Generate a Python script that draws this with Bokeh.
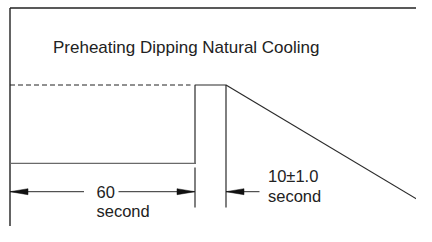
from bokeh.plotting import figure
from bokeh.models import Range1d
from bokeh.core.properties import value
from bokeh.embed import file_html
from bokeh.resources import INLINE

# ---- diagram data (reference pixel coordinates, y downward) ----
title_text = ["Preheating Dipping Natural Cooling"]
title_x = [52.5]
title_y = [47.3]

# frame lines
frame_xs = [[9.5, 440], [9.5, 9.5]]
frame_ys = [[7.5, 7.5], [7.5, 250]]

# preheat level (dashed)
preheat_x = [9.5, 190]
preheat_y = [84.5, 84.5]

# dipping plateau and cooling slope
profile_xs = [[194.5, 194.5, 225.5, 225.5], [225.5, 432], [9.5, 195.5], [194.5, 194.5]]
profile_ys = [[163, 84.5, 84.5, 207], [84.5, 208], [162.8, 162.8], [167, 207]]
profile_colors = ["#2a2a2a", "#2a2a2a", "#6a6a6a", "#2a2a2a"]

# dimension lines
dim_xs = [[9.5, 83.5], [118, 194], [225.5, 259]]
dim_ys = [[191.2, 191.2], [191.2, 191.2], [191.2, 191.2]]

# arrow tips: x, y, direction (+1 = points right, -1 = points left)
tip_x = [9.5, 194.5, 225.5]
tip_y = [191.2, 191.2, 191.2]
tip_dir = [-1, 1, -1]

# labels
label_text = ["60", "second", "10\u00b11.0", "second"]
label_x = [96, 96, 267.5, 267.5]
label_y = [191.6, 210.5, 175.0, 195.5]

HEAD_LEN = 18
HEAD_HALF = 3

p = figure(width=416, height=226, x_range=Range1d(0, 416), y_range=Range1d(226, 0),
           output_backend="svg", toolbar_location=None, min_border=0,
           x_axis_location=None, y_axis_location=None)
p.grid.visible = False
p.outline_line_color = None
p.background_fill_color = "white"
p.border_fill_color = "white"

p.multi_line(frame_xs, frame_ys, line_color="#222222", line_width=1.4)
p.line(preheat_x, preheat_y, line_color="#222222", line_width=1, line_dash="5 3")
p.multi_line(profile_xs, profile_ys, line_color=profile_colors, line_width=1.2)
p.multi_line(dim_xs, dim_ys, line_color="#2a2a2a", line_width=1)

head_xs, head_ys = [], []
for tx, ty, d in zip(tip_x, tip_y, tip_dir):
    bx = tx - d * HEAD_LEN
    head_xs.append([tx, bx, bx])
    head_ys.append([ty, ty - HEAD_HALF, ty + HEAD_HALF])
p.patches(head_xs, head_ys, fill_color="#111111", line_color="#111111", line_width=0.5)

p.text(title_x, title_y, text=title_text, text_font=value("Liberation Sans"),
       text_font_size="17px", text_color="#222222", text_baseline="alphabetic",
       text_align="left")
p.text(label_x, label_y, text=label_text, text_font=value("Liberation Sans"),
       text_font_size="16.5px", text_color="#222222", text_baseline="alphabetic",
       text_align="left")

open("out.html", "w").write(file_html(p, INLINE))
